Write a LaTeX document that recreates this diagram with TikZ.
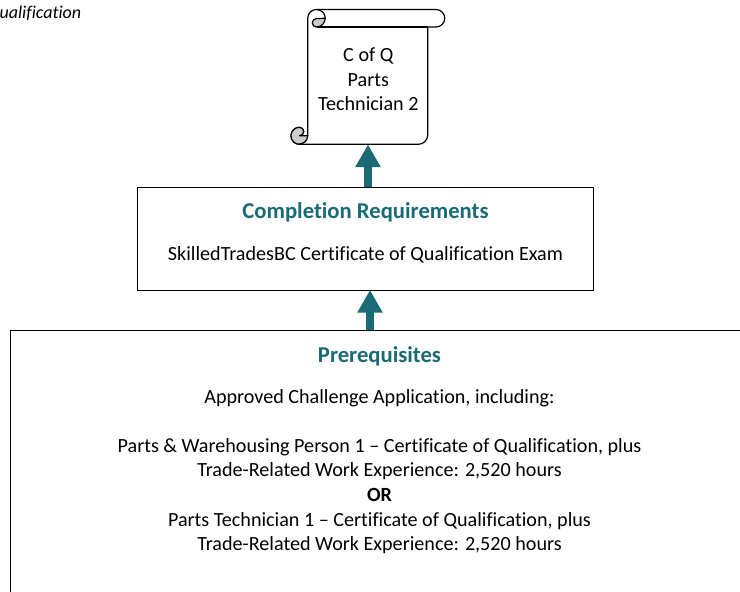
\documentclass[tikz,border=0pt]{standalone}
\usepackage{fontspec}
\setmainfont{Carlito}[Ligatures=NoCommon]
\usetikzlibrary{arrows.meta}
\definecolor{teal1}{HTML}{1B6B77}
\definecolor{curl}{HTML}{CCCCCC}
\tikzset{
  px/.style={x=0.75pt,y=-0.75pt},
  outline/.style={draw=black,line width=0.9pt,line join=round},
  boxed/.style={draw=black,line width=0.75pt,fill=white,inner sep=0pt},
  bigarrow/.style={draw=teal1,line width=6pt,-{Triangle[width=18pt,length=17pt]}},
  title/.style={font=\bfseries\fontsize{17}{18.5}\selectfont,text=teal1,inner sep=0pt},
  body/.style={font=\fontsize{15.1}{18.5}\selectfont,inner sep=0pt,align=center},
}
\begin{document}
\begin{tikzpicture}[px]
\useasboundingbox (0,0) rectangle (740,592);
% prerequisites box (runs off the page)
\node[boxed,anchor=north west,minimum width=562pt,minimum height=217pt] (pre) at (10,330) {};
% completion box
\node[boxed,anchor=north west,minimum width=342pt,minimum height=77pt] (comp) at (137,187) {};
% scroll body and rolls
\path[fill=white,outline]
  (316.5,9.5) -- (436,9.5) arc[start angle=-90,end angle=90,radius=8.75]
  -- (427.7,27) -- (427.7,135) arc[start angle=0,end angle=90,radius=9.3]
  -- (299.5,144.3) arc[start angle=90,end angle=270,radius=8.5]
  arc[start angle=-90,end angle=0,radius=4.2] arc[start angle=0,end angle=90,radius=4.2]
  -- (307.7,135.7) -- (307.7,18.25) arc[start angle=180,end angle=270,radius=8.8] -- cycle;
% upper curl
\path[fill=curl,outline]
  (316.5,18.6) -- (325.2,18.25) arc[start angle=0,end angle=90,radius=8.75]
  arc[start angle=90,end angle=270,radius=4.2] -- cycle;
\draw[outline] (316.5,9.5) arc[start angle=-90,end angle=0,radius=8.75];
\draw[outline] (316.5,27) -- (427.7,27);
% lower curl
\path[fill=curl,outline]
  (299.5,144.3) arc[start angle=90,end angle=270,radius=8.5]
  arc[start angle=-90,end angle=0,radius=4.2] arc[start angle=0,end angle=90,radius=4.2]
  -- (307.7,135.7) arc[start angle=0,end angle=90,radius=8.2] -- cycle;
\node[body,minimum width=90pt,minimum height=80pt] (scroll) at (368.3,79.2) {C of Q\\Parts\\Technician 2};
\coordinate (scrollS) at (368,144.5);
\coordinate (compN) at (368,187);
\coordinate (compS) at (370,290);
\coordinate (preN) at (370,330);
\draw[bigarrow] (compN) -- (scrollS);
\draw[bigarrow] (preN) -- (compS);
% labels
\node[anchor=east,inner sep=0pt,font=\itshape\fontsize{13.5}{15}\selectfont] (qual) at (81.5,13) {Qualification};
\node[title] (t1) at (365.5,212) {Completion Requirements};
\node[body] (b1) at (365.5,254.5) {SkilledTradesBC Certificate of Qualification Exam};
\node[title] (t2) at (379.5,356) {Prerequisites};
\node[body] (b2) at (379.5,398) {Approved Challenge Application, including:};
\node[body] (b3) at (379.5,496) {Parts \& Warehousing Person 1 – Certificate of Qualification, plus\\Trade-Related Work Experience: 2,520 hours\\\textbf{OR}\\Parts Technician 1 – Certificate of Qualification, plus\\Trade-Related Work Experience: 2,520 hours};
\end{tikzpicture}
\end{document}
